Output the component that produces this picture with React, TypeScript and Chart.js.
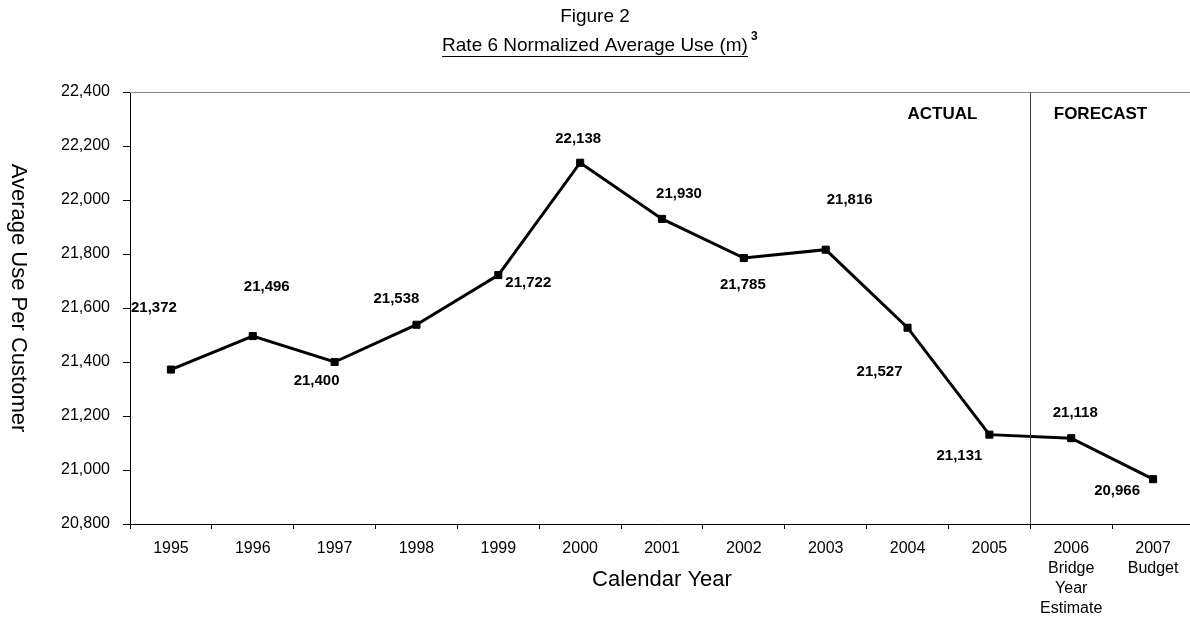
import React, { useEffect, useRef } from "react";
import { Chart, registerables } from "chart.js";

Chart.register(...registerables);

// ---- data ----
const categories: string[][] = [
  ["1995"], ["1996"], ["1997"], ["1998"], ["1999"], ["2000"], ["2001"],
  ["2002"], ["2003"], ["2004"], ["2005"],
  ["2006", "Bridge", "Year", "Estimate"],
  ["2007", "Budget"],
];
const averageUse: number[] = [
  21372, 21496, 21400, 21538, 21722, 22138, 21930, 21785, 21816, 21527, 21131, 21118, 20966,
];
const yMin = 20800;
const yMax = 22400;
const yStep = 200;
const sectionLabels = ["ACTUAL", "FORECAST"];
const titleLine1 = "Figure 2";
const titleLine2 = "Rate 6 Normalized Average Use (m)";
const titleSup = "3";
const yAxisTitle = "Average Use Per Customer";
const xAxisTitle = "Calendar Year";

// ---- layout (label placement, not data) ----
const labelOffsets: [number, number][] = [
  [-17, -62], [14, -49], [-18, 19], [-20, -26], [30, 8], [-2, -24], [17, -25],
  [-1, 27], [24, -50], [-28, 44], [-30, 21], [4, -25], [-36, 12],
];

const FONT = "'Liberation Sans', Arial, Helvetica, sans-serif";
const fmt = (v: number) => v.toLocaleString("en-US");

const decorPlugin = {
  id: "decor",
  afterDatasetsDraw(chart: any) {
    const ctx = chart.ctx as CanvasRenderingContext2D;
    const meta = chart.getDatasetMeta(0);
    ctx.save();
    ctx.fillStyle = "#000";
    ctx.font = `bold 15px ${FONT}`;
    ctx.textAlign = "center";
    ctx.textBaseline = "middle";
    meta.data.forEach((pt: any, i: number) => {
      const [dx, dy] = labelOffsets[i];
      ctx.fillText(fmt(averageUse[i]), pt.x + dx, pt.y + dy);
    });
    ctx.restore();
  },
  afterDraw(chart: any) {
    const ctx = chart.ctx as CanvasRenderingContext2D;
    const { left, right, top, bottom } = chart.chartArea;
    const xs = chart.scales.x;
    ctx.save();
    // top border (grey)
    ctx.strokeStyle = "#8a8a8a";
    ctx.lineWidth = 1;
    ctx.beginPath();
    ctx.moveTo(left, Math.round(top) + 0.5);
    ctx.lineTo(right, Math.round(top) + 0.5);
    ctx.stroke();
    // divider between actual / forecast
    const dvx = Math.round(xs.getPixelForValue(10.5)) + 0.5;
    ctx.strokeStyle = "#404040";
    ctx.beginPath();
    ctx.moveTo(dvx, top);
    ctx.lineTo(dvx, bottom);
    ctx.stroke();
    // section labels
    ctx.fillStyle = "#000";
    ctx.font = `bold 17px ${FONT}`;
    ctx.textAlign = "center";
    ctx.textBaseline = "middle";
    ctx.fillText(sectionLabels[0], dvx - 88, top + 22);
    ctx.fillText(sectionLabels[1], dvx + 70, top + 22);
    // titles
    const cx = 595;
    ctx.font = `19px ${FONT}`;
    ctx.fillText(titleLine1, cx, 17);
    const w2 = ctx.measureText(titleLine2).width;
    const x2 = cx - w2 / 2;
    ctx.textAlign = "left";
    ctx.fillText(titleLine2, x2, 46);
    ctx.strokeStyle = "#000";
    ctx.lineWidth = 1;
    ctx.beginPath();
    ctx.moveTo(x2, 56.5);
    ctx.lineTo(x2 + w2, 56.5);
    ctx.stroke();
    ctx.font = `bold 12px ${FONT}`;
    ctx.fillText(titleSup, x2 + w2 + 3, 37);
    // axis titles
    ctx.font = `22px ${FONT}`;
    ctx.textAlign = "center";
    ctx.fillText(xAxisTitle, (left + right) / 2, 580);
    ctx.save();
    ctx.translate(18, (top + bottom) / 2 - 10);
    ctx.rotate(Math.PI / 2);
    ctx.fillText(yAxisTitle, 0, 0);
    ctx.restore();
    ctx.restore();
  },
};

export default function App() {
  const ref = useRef<HTMLCanvasElement | null>(null);
  useEffect(() => {
    if (!ref.current) return;
    const chart = new Chart(ref.current, {
      type: "line",
      data: {
        labels: categories,
        datasets: [
          {
            data: averageUse,
            borderColor: "#000",
            backgroundColor: "#000",
            borderWidth: 3,
            pointStyle: "rect",
            pointRadius: 5,
            pointBorderWidth: 1,
            pointBackgroundColor: "#000",
            pointBorderColor: "#000",
            tension: 0,
          },
        ],
      },
      options: {
        responsive: false,
        animation: false,
        devicePixelRatio: 1,
        layout: { padding: { top: 92, left: 0, right: 3, bottom: 0 } },
        plugins: {
          legend: { display: false },
          tooltip: { enabled: false },
          title: { display: false },
        },
        scales: {
          x: {
            type: "category",
            offset: true,
            grid: {
              offset: true,
              drawOnChartArea: false,
              drawTicks: true,
              tickLength: 5,
              color: "#000",
            },
            border: { display: true, color: "#000", width: 1 },
            ticks: {
              color: "#000",
              font: { family: FONT, size: 16, lineHeight: 1.25 },
              padding: 10,
              maxRotation: 0,
              autoSkip: false,
            },
            afterFit(scale: any) {
              scale.height = 621 - 524;
            },
          },
          y: {
            min: yMin,
            max: yMax,
            grid: {
              drawOnChartArea: false,
              drawTicks: true,
              tickLength: 7,
              color: "#000",
            },
            border: { display: true, color: "#000", width: 1 },
            ticks: {
              stepSize: yStep,
              color: "#000",
              font: { family: FONT, size: 16 },
              padding: 13,
              callback: (v: any) => fmt(Number(v)),
            },
            afterFit(scale: any) {
              scale.width = 130;
            },
          },
        },
      },
      plugins: [decorPlugin],
    });
    return () => chart.destroy();
  }, []);
  return (
    <div
      style={{
        position: "fixed",
        left: 0,
        top: 0,
        width: 1190,
        height: 621,
        overflow: "hidden",
        background: "#fff",
      }}
    >
      <canvas ref={ref} width={1200} height={621} style={{ display: "block" }} />
    </div>
  );
}
